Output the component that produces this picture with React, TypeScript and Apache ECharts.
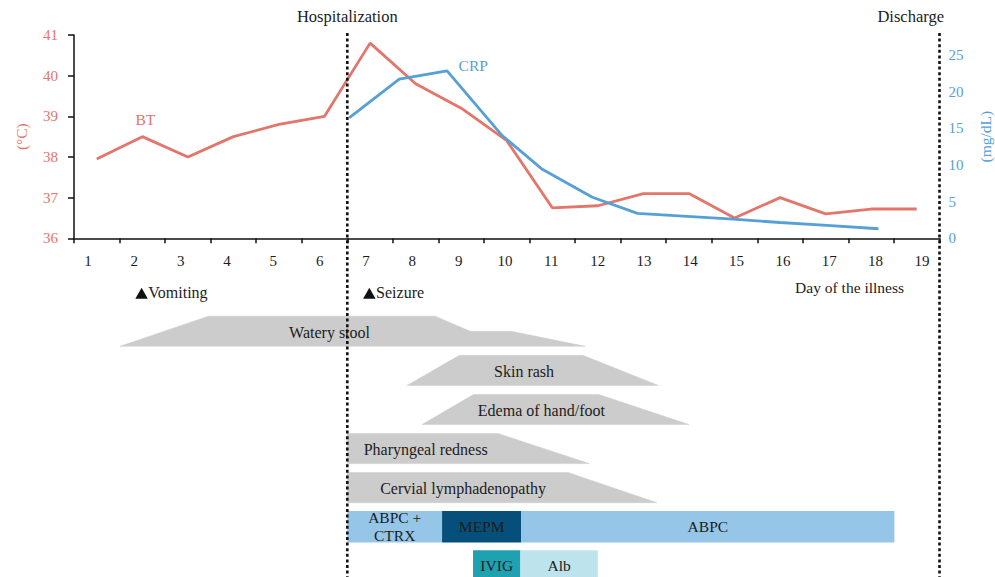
import React, { useEffect, useRef } from 'react';
import * as echarts from 'echarts';

// ---------- data ----------
const days = ['1', '2', '3', '4', '5', '6', '7', '8', '9', '10', '11', '12', '13', '14', '15', '16', '17', '18', '19'];
const dayLabelValues = [1, 2, 3, 4, 5, 6, 7, 8, 9, 10, 11, 12, 13, 14, 15, 16, 17, 18, 19];
const btValues = [37.95, 38.5, 38.0, 38.5, 38.8, 39.0, 40.8, 39.8, 39.2, 38.4, 36.75, 36.8, 37.1, 37.1, 36.5, 37.0, 36.6, 36.72, 36.72];
// CRP measured on its own day scale: [day position, mg/dL]
const crpPoints: [number, number][] = [
  [6.54, 16.4], [7.64, 21.7], [8.69, 22.8], [9.9, 14.0], [10.78, 9.4], [11.88, 5.6],
  [12.87, 3.4], [13.96, 3.0], [14.97, 2.6], [16.0, 2.15], [17.03, 1.75], [18.16, 1.3],
];
const btLabelIndex = 1;
const crpLabelIndex = 2;

const events = [
  { day: 6.5, label: 'Hospitalization', align: 'center' },
  { day: 19.5, label: 'Discharge', align: 'right' },
];
const markerDays = [2, 7];
const markerLabels = ['Vomiting', 'Seizure'];

// profile: [day, height fraction 0=bottom 1=top]
const symptomNames = ['Watery stool', 'Skin rash', 'Edema of hand/foot', 'Pharyngeal redness', 'Cervial lymphadenopathy'];
const symptomProfiles: [number, number][][] = [
  [[1.51, 0], [3.45, 1], [8.43, 1], [9.2, 0.5], [10.1, 0.5], [11.72, 0]],
  [[7.81, 0], [8.96, 1], [11.67, 1], [13.33, 0]],
  [[8.14, 0], [9.27, 1], [12.02, 1], [14.0, 0]],
  [[6.5, 0], [6.5, 1], [9.81, 1], [11.81, 0]],
  [[6.5, 0], [6.5, 1], [11.35, 1], [13.3, 0]],
];
const symptomLabelDays = [6.11, 10.38, 10.76, 8.22, 9.04];

const treatmentNames = ['ABPC +\nCTRX', 'MEPM', 'ABPC', 'IVIG', 'Alb'];
const treatmentLanes = [5, 5, 5, 6, 6];
const treatmentStart = [6.5, 8.58, 10.32, 9.26, 10.3];
const treatmentEnd = [8.58, 10.32, 18.51, 10.3, 12.0];
const treatmentColors = ['#95c6e8', '#064f7a', '#95c6e8', '#1ea2b2', '#bde4ec'];

// ---------- styles ----------
const FONT = 'Liberation Serif';
const RED = '#e3756a';
const BLUE = '#56a0d5';
const GRAY = '#cccccc';
const TEXT = '#1c1c1c';

export default function App() {
  const ref = useRef<HTMLDivElement>(null);

  useEffect(() => {
    if (!ref.current) return;
    const chart = echarts.init(ref.current, undefined, { renderer: 'svg' });

    const textStyle = (text: string, x: number, y: number, align: string, color: string, size = 16, lh?: number) => ({
      text, x, y,
      textAlign: align, align,
      textVerticalAlign: 'middle', verticalAlign: 'middle',
      fill: color, textFill: color,
      font: `${size}px "${FONT}"`,
      fontFamily: FONT, fontSize: size,
      lineHeight: lh,
      textLineHeight: lh,
    });

    const option: any = {
      animation: false,
      textStyle: { fontFamily: FONT },
      grid: [
        { left: 74, right: 55.5, top: 35, height: 203.3, outerBoundsMode: 'none', containLabel: false },
        { left: 74, right: 55.5, top: 272.6, height: 312.8, outerBoundsMode: 'none', containLabel: false },
      ],
      xAxis: [
        {
          type: 'category', gridIndex: 0, data: days, boundaryGap: true, position: 'bottom',
          axisLine: { lineStyle: { color: '#111', width: 1.5 } },
          axisTick: { show: true, length: 5, lineStyle: { color: '#111', width: 1.5 } },
          axisLabel: { show: false },
        },
        { type: 'value', gridIndex: 0, min: 0.5, max: 19.5, show: false },
        { type: 'value', gridIndex: 1, min: 0.5, max: 19.5, show: false },
        {
          // tick labels as placed in the original (slightly wider spread than the ticks)
          type: 'value', gridIndex: 0, position: 'bottom', offset: 0,
          min: 0.698, max: 19.379,
          axisLine: { show: false }, axisTick: { show: false }, splitLine: { show: false },
          axisLabel: {
            customValues: dayLabelValues, formatter: (v: number) => String(Math.round(v)),
            color: TEXT, fontSize: 15, fontFamily: FONT, margin: 15,
          },
        },
      ],
      yAxis: [
        {
          type: 'value', gridIndex: 0, min: 36, max: 41, interval: 1,
          axisLine: { show: true, lineStyle: { color: '#111', width: 1.5 } },
          axisTick: { show: true, length: 6, lineStyle: { color: '#111', width: 1.5 } },
          axisLabel: { color: RED, fontSize: 15, fontFamily: FONT, margin: 16 },
          splitLine: { show: false },
          name: '(°C)', nameLocation: 'middle', nameGap: 45, nameRotate: 90,
          nameTextStyle: { color: RED, fontSize: 15.5, fontFamily: FONT },
        },
        {
          type: 'value', gridIndex: 0, min: 0, max: 27.7, interval: 5, position: 'right',
          axisLine: { show: false }, axisTick: { show: false },
          axisLabel: { color: BLUE, fontSize: 15, fontFamily: FONT, margin: 9, showMaxLabel: false },
          splitLine: { show: false },
          name: '(mg/dL)', nameLocation: 'middle', nameGap: 38, nameRotate: 90,
          nameTextStyle: { color: BLUE, fontSize: 15.5, fontFamily: FONT },
        },
        { type: 'value', gridIndex: 1, min: -1.5, max: 6.5, inverse: true, show: false },
      ],
      graphic: [
        {
          type: 'text', right: 91, top: 279,
          style: { text: 'Day of the illness', fill: TEXT, font: `15.5px "${FONT}"`, fontFamily: FONT, fontSize: 15.5 },
        },
      ],
      series: [
        {
          type: 'line', name: 'BT', xAxisIndex: 0, yAxisIndex: 0, data: btValues,
          symbol: 'none', lineStyle: { color: RED, width: 2.8 }, itemStyle: { color: RED },
          silent: true, z: 3,
          markPoint: {
            symbol: 'circle', symbolSize: 1, itemStyle: { color: 'rgba(0,0,0,0)' }, silent: true,
            label: { show: true, position: 'top', distance: 9, formatter: 'BT', color: RED, fontSize: 15.5, fontFamily: FONT, offset: [3, 0] },
            data: [{ coord: [btLabelIndex, btValues[btLabelIndex]] }],
          },
        },
        {
          type: 'line', name: 'CRP', xAxisIndex: 1, yAxisIndex: 1, data: crpPoints,
          symbol: 'none', lineStyle: { color: BLUE, width: 2.8 }, itemStyle: { color: BLUE },
          silent: true, z: 3,
          markPoint: {
            symbol: 'circle', symbolSize: 1, itemStyle: { color: 'rgba(0,0,0,0)' }, silent: true,
            label: { show: true, position: 'right', distance: 11, formatter: 'CRP', color: BLUE, fontSize: 15.5, fontFamily: FONT, offset: [0, -5] },
            data: [{ coord: crpPoints[crpLabelIndex] }],
          },
        },
        // symptom trapezoids
        {
          type: 'custom', xAxisIndex: 2, yAxisIndex: 2, clip: false, silent: true, z: 2,
          data: symptomNames.map((_, i) => [symptomProfiles[i][0][0], i]),
          renderItem: (params: any, api: any) => {
            const i = params.dataIndex;
            const lane = api.value(1);
            const half = 0.385;
            const points = symptomProfiles[i].map(([d, f]) => api.coord([d, lane + half - f * 2 * half]));
            const lp = api.coord([symptomLabelDays[i], lane]);
            return {
              type: 'group',
              children: [
                { type: 'polygon', shape: { points }, style: { fill: GRAY, stroke: GRAY, lineWidth: 0.5 } },
                { type: 'text', style: textStyle(symptomNames[i], lp[0], lp[1] + 1, 'center', TEXT, 16) },
              ],
            };
          },
        },
        // treatments
        {
          type: 'custom', xAxisIndex: 2, yAxisIndex: 2, clip: false, silent: true, z: 2,
          data: treatmentNames.map((_, i) => [treatmentStart[i], treatmentLanes[i], treatmentEnd[i]]),
          renderItem: (params: any, api: any) => {
            const i = params.dataIndex;
            const lane = api.value(1);
            const p1 = api.coord([api.value(0), lane - 0.4]);
            const p2 = api.coord([api.value(2), lane + 0.4]);
            const x = Math.min(p1[0], p2[0]);
            const y = Math.min(p1[1], p2[1]);
            const w = Math.abs(p2[0] - p1[0]);
            const h = Math.abs(p2[1] - p1[1]);
            return {
              type: 'group',
              children: [
                { type: 'rect', shape: { x, y, width: w, height: h }, style: { fill: treatmentColors[i] } },
                { type: 'text', style: textStyle(treatmentNames[i], x + w / 2, y + h / 2, 'center', TEXT, 15.5, 18) },
              ],
            };
          },
        },
        // markers (▲ + label)
        {
          type: 'custom', xAxisIndex: 2, yAxisIndex: 2, clip: false, silent: true, z: 2,
          data: markerDays.map((d) => [d, -1]),
          renderItem: (params: any, api: any) => {
            const p = api.coord([api.value(0), api.value(1)]);
            const lx = p[0] - 7;
            const cy = p[1] + 1;
            return {
              type: 'group',
              children: [
                { type: 'polygon', shape: { points: [[lx, cy + 5.5], [lx + 12.5, cy + 5.5], [lx + 6.25, cy - 5.5]] }, style: { fill: '#111' } },
                { type: 'text', style: textStyle(markerLabels[params.dataIndex], lx + 13, cy - 1, 'left', TEXT, 16) },
              ],
            };
          },
        },
        // event lines (hospitalization / discharge)
        {
          type: 'custom', xAxisIndex: 1, yAxisIndex: 0, clip: false, silent: true, z: 5,
          data: events.map((e) => [e.day, 41]),
          renderItem: (params: any, api: any) => {
            const ev = events[params.dataIndex];
            const p = api.coord([api.value(0), api.value(1)]);
            const x = p[0];
            const top = p[1] - 2;
            const h = api.getHeight();
            return {
              type: 'group',
              children: [
                { type: 'line', shape: { x1: x, y1: top, x2: x, y2: h }, style: { stroke: '#111', lineWidth: 2.6, lineDash: [3, 2.6] } },
                { type: 'text', style: textStyle(ev.label, ev.align === 'right' ? x + 4.5 : x, top - 16.5, ev.align, TEXT, 16.5) },
              ],
            };
          },
        },
      ],
    };

    chart.setOption(option);
    return () => chart.dispose();
  }, []);

  return <div ref={ref} style={{ position: 'absolute', left: 0, top: 0, width: 995, height: 577 }} />;
}
